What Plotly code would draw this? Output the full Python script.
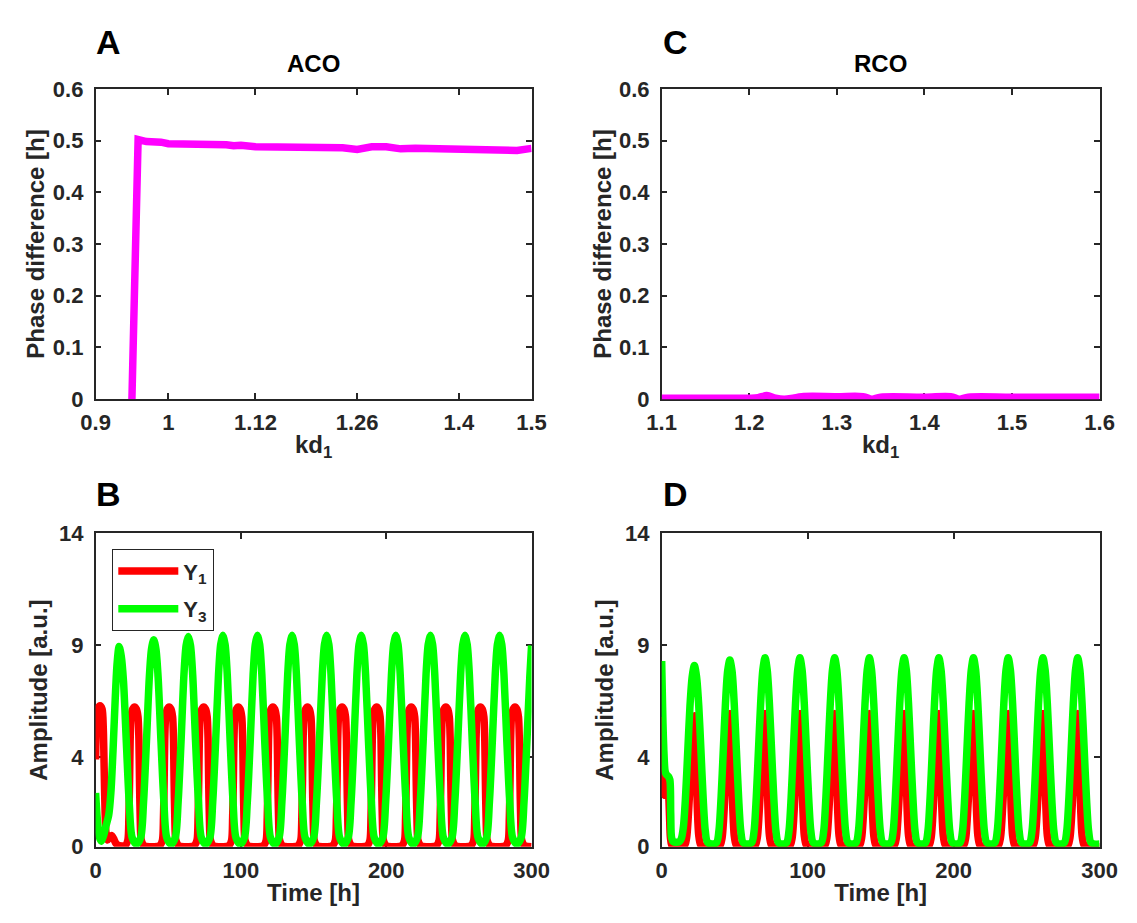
import plotly.graph_objects as go

# ---------------- data ----------------
# Panel A (ACO): phase difference vs kd1
kd_aco = [0.950, 0.9585, 0.97, 0.98, 0.99, 1.00, 1.02, 1.04, 1.06, 1.08, 1.09, 1.10,
          1.12, 1.14, 1.16, 1.18, 1.20, 1.22, 1.24, 1.26, 1.28, 1.30, 1.32, 1.34,
          1.36, 1.38, 1.40, 1.42, 1.44, 1.46, 1.48, 1.50]
phase_aco = [0.0, 0.502, 0.498, 0.499, 0.497, 0.494, 0.494, 0.494, 0.494, 0.492, 0.490, 0.491,
             0.488, 0.488, 0.488, 0.487, 0.488, 0.487, 0.486, 0.483, 0.488, 0.488, 0.484, 0.485,
             0.484, 0.484, 0.482, 0.484, 0.480, 0.480, 0.481, 0.485]

# Panel C (RCO)
kd_rco = [1.10, 1.15, 1.20, 1.21, 1.22, 1.23, 1.24, 1.25, 1.26, 1.30, 1.33, 1.34,
          1.35, 1.40, 1.43, 1.44, 1.45, 1.50, 1.55, 1.60]
phase_rco = [0.002, 0.002, 0.002, 0.003, 0.007, 0.002, 0.000, 0.002, 0.005, 0.005, 0.005, 0.000,
             0.004, 0.004, 0.005, 0.000, 0.004, 0.004, 0.004, 0.004]

# Panel B (ACO time series) - Y1 (red)
t_aco_y1 = [0, 0.6, 1.5, 3.0, 4.5, 5.3, 5.9, 6.5, 7.2, 8.2, 9.5, 11.0, 12.5, 14.0, 16.0,
            20.3, 22.2, 22.9, 23.4, 23.8, 24.4, 25.5, 26.8, 28.1, 29.2, 29.8, 30.2, 30.7, 31.4, 33.3, 38.7,
            44.1, 46.0, 46.7, 47.2, 47.6, 48.2, 49.3, 50.6, 51.9, 53.0, 53.6, 54.0, 54.5, 55.2, 57.1, 62.5,
            67.9, 69.8, 70.5, 71.0, 71.4, 72.0, 73.1, 74.4, 75.7, 76.8, 77.4, 77.8, 78.3, 79.0, 80.9, 86.3,
            91.7, 93.6, 94.3, 94.8, 95.2, 95.8, 96.9, 98.2, 99.5, 100.6, 101.2, 101.6, 102.1, 102.8, 104.7, 110.1,
            115.5, 117.4, 118.1, 118.6, 119.0, 119.6, 120.7, 122.0, 123.3, 124.4, 125.0, 125.4, 125.9, 126.6, 128.5, 133.9,
            139.3, 141.2, 141.9, 142.4, 142.8, 143.4, 144.5, 145.8, 147.1, 148.2, 148.8, 149.2, 149.7, 150.4, 152.3, 157.7,
            163.1, 165.0, 165.7, 166.2, 166.6, 167.2, 168.3, 169.6, 170.9, 172.0, 172.6, 173.0, 173.5, 174.2, 176.1, 181.5,
            186.9, 188.8, 189.5, 190.0, 190.4, 191.0, 192.1, 193.4, 194.7, 195.8, 196.4, 196.8, 197.3, 198.0, 199.9, 205.3,
            210.7, 212.6, 213.3, 213.8, 214.2, 214.8, 215.9, 217.2, 218.5, 219.6, 220.2, 220.6, 221.1, 221.8, 223.7, 229.1,
            234.5, 236.4, 237.1, 237.6, 238.0, 238.6, 239.7, 241.0, 242.3, 243.4, 244.0, 244.4, 244.9, 245.6, 247.5, 252.9,
            258.3, 260.2, 260.9, 261.4, 261.8, 262.4, 263.5, 264.8, 266.1, 267.2, 267.8, 268.2, 268.7, 269.4, 271.3, 276.7,
            282.1, 284.0, 284.7, 285.2, 285.6, 286.2, 287.3, 288.6, 289.9, 291.0, 291.6, 292.0, 292.5, 293.2, 295.1, 300.0]
aco_y1 = [3.9, 5.5, 6.15, 6.3, 6.15, 5.3, 3.5, 1.6, 0.6, 0.3, 0.4, 0.5, 0.35, 0.15, 0.05,
          0.05, 0.3, 1.3, 3.0, 4.8, 5.8, 6.15, 6.25, 6.15, 5.8, 4.8, 3.0, 1.3, 0.3, 0.05, 0.0,
          0.05, 0.3, 1.3, 3.0, 4.8, 5.8, 6.15, 6.25, 6.15, 5.8, 4.8, 3.0, 1.3, 0.3, 0.05, 0.0,
          0.05, 0.3, 1.3, 3.0, 4.8, 5.8, 6.15, 6.25, 6.15, 5.8, 4.8, 3.0, 1.3, 0.3, 0.05, 0.0,
          0.05, 0.3, 1.3, 3.0, 4.8, 5.8, 6.15, 6.25, 6.15, 5.8, 4.8, 3.0, 1.3, 0.3, 0.05, 0.0,
          0.05, 0.3, 1.3, 3.0, 4.8, 5.8, 6.15, 6.25, 6.15, 5.8, 4.8, 3.0, 1.3, 0.3, 0.05, 0.0,
          0.05, 0.3, 1.3, 3.0, 4.8, 5.8, 6.15, 6.25, 6.15, 5.8, 4.8, 3.0, 1.3, 0.3, 0.05, 0.0,
          0.05, 0.3, 1.3, 3.0, 4.8, 5.8, 6.15, 6.25, 6.15, 5.8, 4.8, 3.0, 1.3, 0.3, 0.05, 0.0,
          0.05, 0.3, 1.3, 3.0, 4.8, 5.8, 6.15, 6.25, 6.15, 5.8, 4.8, 3.0, 1.3, 0.3, 0.05, 0.0,
          0.05, 0.3, 1.3, 3.0, 4.8, 5.8, 6.15, 6.25, 6.15, 5.8, 4.8, 3.0, 1.3, 0.3, 0.05, 0.0,
          0.05, 0.3, 1.3, 3.0, 4.8, 5.8, 6.15, 6.25, 6.15, 5.8, 4.8, 3.0, 1.3, 0.3, 0.05, 0.0,
          0.05, 0.3, 1.3, 3.0, 4.8, 5.8, 6.15, 6.25, 6.15, 5.8, 4.8, 3.0, 1.3, 0.3, 0.05, 0.0,
          0.05, 0.3, 1.3, 3.0, 4.8, 5.8, 6.15, 6.25, 6.15, 5.8, 4.8, 3.0, 1.3, 0.3, 0.05, 0.0]

# Panel B (ACO time series) - Y3 (green)
t_aco_y3 = [0, 1, 2, 3, 4, 5.5, 7, 9, 10.5, 12, 13.5, 14.8, 16.2, 17.7, 19.2, 21.2, 23.2, 25.2, 28.1,
            31.0, 33.0, 35.0, 37.0, 38.5, 40.0, 41.5, 43.0, 45.0, 47.0, 49.0, 51.9,
            54.8, 56.8, 58.8, 60.8, 62.3, 63.8, 65.3, 66.8, 68.8, 70.8, 72.8, 75.7,
            78.6, 80.6, 82.6, 84.6, 86.1, 87.6, 89.1, 90.6, 92.6, 94.6, 96.6, 99.5,
            102.4, 104.4, 106.4, 108.4, 109.9, 111.4, 112.9, 114.4, 116.4, 118.4, 120.4, 123.3,
            126.2, 128.2, 130.2, 132.2, 133.7, 135.2, 136.7, 138.2, 140.2, 142.2, 144.2, 147.1,
            150.0, 152.0, 154.0, 156.0, 157.5, 159.0, 160.5, 162.0, 164.0, 166.0, 168.0, 170.9,
            173.8, 175.8, 177.8, 179.8, 181.3, 182.8, 184.3, 185.8, 187.8, 189.8, 191.8, 194.7,
            197.6, 199.6, 201.6, 203.6, 205.1, 206.6, 208.1, 209.6, 211.6, 213.6, 215.6, 218.5,
            221.4, 223.4, 225.4, 227.4, 228.9, 230.4, 231.9, 233.4, 235.4, 237.4, 239.4, 242.3,
            245.2, 247.2, 249.2, 251.2, 252.7, 254.2, 255.7, 257.2, 259.2, 261.2, 263.2, 266.1,
            269.0, 271.0, 273.0, 275.0, 276.5, 278.0, 279.5, 281.0, 283.0, 285.0, 287.0, 289.9,
            292.8, 294.8, 296.8, 298.8, 300.0]
aco_y3 = [2.4, 1.4, 0.7, 0.35, 0.25, 0.5, 0.9, 1.4, 2.4, 4.3, 6.6, 8.2, 8.95, 8.5, 7.4, 4.6, 1.9, 0.4, 0.12,
          0.4, 2.0, 4.7, 7.6, 8.85, 9.25, 8.85, 7.6, 4.7, 2.0, 0.4, 0.12,
          0.4, 2.0, 4.7, 7.7, 9.0, 9.4, 9.0, 7.7, 4.7, 2.0, 0.4, 0.12,
          0.4, 2.0, 4.7, 7.7, 9.05, 9.45, 9.05, 7.7, 4.7, 2.0, 0.4, 0.12,
          0.4, 2.0, 4.7, 7.7, 9.05, 9.45, 9.05, 7.7, 4.7, 2.0, 0.4, 0.12,
          0.4, 2.0, 4.7, 7.7, 9.05, 9.45, 9.05, 7.7, 4.7, 2.0, 0.4, 0.12,
          0.4, 2.0, 4.7, 7.7, 9.05, 9.45, 9.05, 7.7, 4.7, 2.0, 0.4, 0.12,
          0.4, 2.0, 4.7, 7.7, 9.05, 9.45, 9.05, 7.7, 4.7, 2.0, 0.4, 0.12,
          0.4, 2.0, 4.7, 7.7, 9.05, 9.45, 9.05, 7.7, 4.7, 2.0, 0.4, 0.12,
          0.4, 2.0, 4.7, 7.7, 9.05, 9.45, 9.05, 7.7, 4.7, 2.0, 0.4, 0.12,
          0.4, 2.0, 4.7, 7.7, 9.05, 9.45, 9.05, 7.7, 4.7, 2.0, 0.4, 0.12,
          0.4, 2.0, 4.7, 7.7, 9.05, 9.45, 9.05, 7.7, 4.7, 2.0, 0.4, 0.12,
          0.4, 2.0, 4.7, 7.6, 9.0]

# Panel D (RCO time series) - Y1 (red)
t_rco_y1 = [0, 0.4, 1.0, 1.8, 2.6, 3.5, 4.5, 5.3, 6.0, 7.0, 9.0,
            15.6, 17.1, 18.1, 19.6, 21.1, 22.1, 22.6, 23.2, 23.8, 24.5, 25.4, 26.6, 28.1, 34.75,
            39.9, 41.4, 42.4, 43.9, 45.4, 46.4, 46.9, 47.5, 48.1, 48.8, 49.7, 50.9, 52.4, 58.95,
            64.0, 65.5, 66.5, 68.0, 69.5, 70.5, 71.0, 71.6, 72.2, 72.9, 73.8, 75.0, 76.5, 82.95,
            87.9, 89.4, 90.4, 91.9, 93.4, 94.4, 94.9, 95.5, 96.1, 96.8, 97.7, 98.9, 100.4, 106.8,
            111.7, 113.2, 114.2, 115.7, 117.2, 118.2, 118.7, 119.3, 119.9, 120.6, 121.5, 122.7, 124.2, 130.6,
            135.5, 137.0, 138.0, 139.5, 141.0, 142.0, 142.5, 143.1, 143.7, 144.4, 145.3, 146.5, 148.0, 154.4,
            159.3, 160.8, 161.8, 163.3, 164.8, 165.8, 166.3, 166.9, 167.5, 168.2, 169.1, 170.3, 171.8, 178.2,
            183.1, 184.6, 185.6, 187.1, 188.6, 189.6, 190.1, 190.7, 191.3, 192.0, 192.9, 194.1, 195.6, 201.95,
            206.8, 208.3, 209.3, 210.8, 212.3, 213.3, 213.8, 214.4, 215.0, 215.7, 216.6, 217.8, 219.3, 225.7,
            230.6, 232.1, 233.1, 234.6, 236.1, 237.1, 237.6, 238.2, 238.8, 239.5, 240.4, 241.6, 243.1, 249.5,
            254.4, 255.9, 256.9, 258.4, 259.9, 260.9, 261.4, 262.0, 262.6, 263.3, 264.2, 265.4, 266.9, 273.3,
            278.2, 279.7, 280.7, 282.2, 283.7, 284.7, 285.2, 285.8, 286.4, 287.1, 288.0, 289.2, 290.7, 300.0]
rco_y1 = [5.8, 4.3, 3.0, 2.3, 2.4, 2.5, 2.4, 1.5, 0.4, 0.05, 0.0,
          0.05, 0.4, 1.2, 3.0, 4.8, 5.7, 5.85, 5.2, 3.5, 1.6, 0.5, 0.1, 0.02, 0.0,
          0.05, 0.4, 1.2, 3.0, 4.9, 5.8, 5.95, 5.3, 3.5, 1.6, 0.5, 0.1, 0.02, 0.0,
          0.05, 0.4, 1.2, 3.0, 4.9, 5.8, 5.95, 5.3, 3.5, 1.6, 0.5, 0.1, 0.02, 0.0,
          0.05, 0.4, 1.2, 3.0, 4.9, 5.8, 5.95, 5.3, 3.5, 1.6, 0.5, 0.1, 0.02, 0.0,
          0.05, 0.4, 1.2, 3.0, 4.9, 5.8, 5.95, 5.3, 3.5, 1.6, 0.5, 0.1, 0.02, 0.0,
          0.05, 0.4, 1.2, 3.0, 4.9, 5.8, 5.95, 5.3, 3.5, 1.6, 0.5, 0.1, 0.02, 0.0,
          0.05, 0.4, 1.2, 3.0, 4.9, 5.8, 5.95, 5.3, 3.5, 1.6, 0.5, 0.1, 0.02, 0.0,
          0.05, 0.4, 1.2, 3.0, 4.9, 5.8, 5.95, 5.3, 3.5, 1.6, 0.5, 0.1, 0.02, 0.0,
          0.05, 0.4, 1.2, 3.0, 4.9, 5.8, 5.95, 5.3, 3.5, 1.6, 0.5, 0.1, 0.02, 0.0,
          0.05, 0.4, 1.2, 3.0, 4.9, 5.8, 5.95, 5.3, 3.5, 1.6, 0.5, 0.1, 0.02, 0.0,
          0.05, 0.4, 1.2, 3.0, 4.9, 5.8, 5.95, 5.3, 3.5, 1.6, 0.5, 0.1, 0.02, 0.0,
          0.05, 0.4, 1.2, 3.0, 4.9, 5.8, 5.95, 5.3, 3.5, 1.6, 0.5, 0.1, 0.02, 0.0]

# Panel D (RCO time series) - Y3 (green)
t_rco_y3 = [0, 0.4, 0.9, 1.5, 2.3, 3.0, 4.5, 5.6, 6.2, 6.8, 8.0, 10.0, 12.0,
            13.4, 14.9, 16.4, 17.9, 19.4, 20.9, 22.4, 23.9, 25.4, 26.9, 28.4, 29.9, 31.4, 34.55,
            37.7, 39.2, 40.7, 42.2, 43.7, 45.2, 46.7, 48.2, 49.7, 51.2, 52.7, 54.2, 55.7, 58.75,
            61.8, 63.3, 64.8, 66.3, 67.8, 69.3, 70.8, 72.3, 73.8, 75.3, 76.8, 78.3, 79.8, 82.75,
            85.7, 87.2, 88.7, 90.2, 91.7, 93.2, 94.7, 96.2, 97.7, 99.2, 100.7, 102.2, 103.7, 106.6,
            109.5, 111.0, 112.5, 114.0, 115.5, 117.0, 118.5, 120.0, 121.5, 123.0, 124.5, 126.0, 127.5, 130.4,
            133.3, 134.8, 136.3, 137.8, 139.3, 140.8, 142.3, 143.8, 145.3, 146.8, 148.3, 149.8, 151.3, 154.2,
            157.1, 158.6, 160.1, 161.6, 163.1, 164.6, 166.1, 167.6, 169.1, 170.6, 172.1, 173.6, 175.1, 178.0,
            180.9, 182.4, 183.9, 185.4, 186.9, 188.4, 189.9, 191.4, 192.9, 194.4, 195.9, 197.4, 198.9, 201.75,
            204.6, 206.1, 207.6, 209.1, 210.6, 212.1, 213.6, 215.1, 216.6, 218.1, 219.6, 221.1, 222.6, 225.5,
            228.4, 229.9, 231.4, 232.9, 234.4, 235.9, 237.4, 238.9, 240.4, 241.9, 243.4, 244.9, 246.4, 249.3,
            252.2, 253.7, 255.2, 256.7, 258.2, 259.7, 261.2, 262.7, 264.2, 265.7, 267.2, 268.7, 270.2, 273.1,
            276.0, 277.5, 279.0, 280.5, 282.0, 283.5, 285.0, 286.5, 288.0, 289.5, 291.0, 292.5, 294.0, 297.0, 300.0]
rco_y3 = [8.3, 7.0, 5.5, 4.3, 3.4, 3.25, 3.15, 3.0, 1.5, 0.4, 0.22, 0.2, 0.22,
          0.35, 0.9, 2.3, 4.3, 6.3, 7.6, 8.1, 7.6, 6.3, 4.3, 2.2, 0.7, 0.2, 0.12,
          0.2, 0.7, 2.2, 4.3, 6.4, 7.85, 8.35, 7.85, 6.4, 4.3, 2.2, 0.7, 0.2, 0.12,
          0.2, 0.7, 2.2, 4.3, 6.4, 7.9, 8.45, 7.9, 6.4, 4.3, 2.2, 0.7, 0.2, 0.12,
          0.2, 0.7, 2.2, 4.3, 6.4, 7.9, 8.45, 7.9, 6.4, 4.3, 2.2, 0.7, 0.2, 0.12,
          0.2, 0.7, 2.2, 4.3, 6.4, 7.9, 8.45, 7.9, 6.4, 4.3, 2.2, 0.7, 0.2, 0.12,
          0.2, 0.7, 2.2, 4.3, 6.4, 7.9, 8.45, 7.9, 6.4, 4.3, 2.2, 0.7, 0.2, 0.12,
          0.2, 0.7, 2.2, 4.3, 6.4, 7.9, 8.45, 7.9, 6.4, 4.3, 2.2, 0.7, 0.2, 0.12,
          0.2, 0.7, 2.2, 4.3, 6.4, 7.9, 8.45, 7.9, 6.4, 4.3, 2.2, 0.7, 0.2, 0.12,
          0.2, 0.7, 2.2, 4.3, 6.4, 7.9, 8.45, 7.9, 6.4, 4.3, 2.2, 0.7, 0.2, 0.12,
          0.2, 0.7, 2.2, 4.3, 6.4, 7.9, 8.45, 7.9, 6.4, 4.3, 2.2, 0.7, 0.2, 0.12,
          0.2, 0.7, 2.2, 4.3, 6.4, 7.9, 8.45, 7.9, 6.4, 4.3, 2.2, 0.7, 0.2, 0.12,
          0.2, 0.7, 2.2, 4.3, 6.4, 7.9, 8.45, 7.9, 6.4, 4.3, 2.2, 0.7, 0.2, 0.12, 0.12]

# tick labels
kd_aco_ticks = [0.9, 1.0, 1.12, 1.26, 1.4, 1.5]
kd_aco_ticktext = ["0.9", "1", "1.12", "1.26", "1.4", "1.5"]
kd_rco_ticks = [1.1, 1.2, 1.3, 1.4, 1.5, 1.6]
kd_rco_ticktext = ["1.1", "1.2", "1.3", "1.4", "1.5", "1.6"]
phase_ticks = [0, 0.1, 0.2, 0.3, 0.4, 0.5, 0.6]
phase_ticktext = ["0", "0.1", "0.2", "0.3", "0.4", "0.5", "0.6"]
time_ticks = [0, 100, 200, 300]
amp_ticks = [0, 4, 9, 14]

# ---------------- figure ----------------
W, H = 1137, 923
FONT = "Liberation Sans, Arial, sans-serif"
AX = "#262626"
MAGENTA, RED, GREEN = "#FF00FF", "#FF0000", "#00FF00"
LW = 7.5

fig = go.Figure()
fig.add_trace(go.Scatter(x=kd_aco, y=phase_aco, mode="lines", line=dict(color=MAGENTA, width=LW),
                         showlegend=False, xaxis="x", yaxis="y"))
fig.add_trace(go.Scatter(x=kd_rco, y=phase_rco, mode="lines", line=dict(color=MAGENTA, width=LW, shape="spline"),
                         showlegend=False, xaxis="x2", yaxis="y2"))
fig.add_trace(go.Scatter(x=t_aco_y1, y=aco_y1, mode="lines", name="Y<sub>1</sub>", legendgroup="y1",
                         line=dict(color=RED, width=LW, shape="spline", smoothing=0.7),
                         xaxis="x3", yaxis="y3"))
fig.add_trace(go.Scatter(x=t_aco_y3, y=aco_y3, mode="lines", name="Y<sub>3</sub>", legendgroup="y3",
                         line=dict(color=GREEN, width=LW, shape="spline", smoothing=0.8),
                         xaxis="x3", yaxis="y3"))
fig.add_trace(go.Scatter(x=t_rco_y1, y=rco_y1, mode="lines", showlegend=False,
                         line=dict(color=RED, width=LW, shape="spline", smoothing=0.8),
                         xaxis="x4", yaxis="y4"))
fig.add_trace(go.Scatter(x=t_rco_y3, y=rco_y3, mode="lines", showlegend=False,
                         line=dict(color=GREEN, width=LW, shape="spline", smoothing=0.8),
                         xaxis="x4", yaxis="y4"))

def px_x(a, b):
    return [a / W, b / W]

def px_y(top, bottom):
    return [1 - bottom / H, 1 - top / H]

tickfont = dict(family=FONT, size=22, color=AX, weight="bold")
titlefont = dict(family=FONT, size=24, color=AX, weight="bold")

def axis(domain, rng, tickvals, ticktext, anchor, title, standoff, lab_standoff):
    return dict(domain=domain, range=rng, tickvals=tickvals, ticktext=ticktext, anchor=anchor,
                showline=True, linecolor=AX, linewidth=1.5, mirror="ticks",
                ticks="inside", ticklen=6, tickwidth=1.5, tickcolor=AX,
                showgrid=False, zeroline=False, tickfont=tickfont, layer="below traces",
                ticklabelstandoff=lab_standoff,
                title=dict(text=title, font=titlefont, standoff=standoff))

xl, xr = 83, 532
cl, cr = 666, 1117
top1, bot1 = 79, 398
top2, bot2 = 536, 858

fig.update_layout(
    width=W, height=H, margin=dict(l=0, r=0, t=0, b=0),
    paper_bgcolor="white", plot_bgcolor="white",
    font=dict(family=FONT, color=AX, weight="bold"),
    xaxis=axis(px_x(xl, xr), [0.9, 1.5], kd_aco_ticks, kd_aco_ticktext, "y", "kd<sub>1</sub>", 2, 3),
    yaxis=axis(px_y(top1, bot1), [0, 0.6], phase_ticks, phase_ticktext, "x", "Phase difference [h]", 1, 6),
    xaxis2=axis(px_x(cl, cr), [1.1, 1.6], kd_rco_ticks, kd_rco_ticktext, "y2", "kd<sub>1</sub>", 2, 3),
    yaxis2=axis(px_y(top1, bot1), [0, 0.6], phase_ticks, phase_ticktext, "x2", "Phase difference [h]", 1, 6),
    xaxis3=axis(px_x(xl, xr), [0, 300], time_ticks, [str(v) for v in time_ticks], "y3", "Time [h]", 2, 3),
    yaxis3=axis(px_y(top2, bot2), [0, 14], amp_ticks, [str(v) for v in amp_ticks], "x3", "Amplitude [a.u.]", 5, 6),
    xaxis4=axis(px_x(cl, cr), [0, 300], time_ticks, [str(v) for v in time_ticks], "y4", "Time [h]", 2, 3),
    yaxis4=axis(px_y(top2, bot2), [0, 14], amp_ticks, [str(v) for v in amp_ticks], "x4", "Amplitude [a.u.]", 5, 6),
    legend=dict(x=100 / W, y=1 - 552 / H, xanchor="left", yanchor="top",
                bgcolor="white", bordercolor=AX, borderwidth=1.2,
                font=dict(family=FONT, size=22, color=AX, weight="bold"),
                itemwidth=60, tracegroupgap=6),
)

annots = [
    ("<b>A</b>", 96, 31, 34), ("<b>C</b>", 680, 31, 34),
    ("<b>B</b>", 96, 495, 34), ("<b>D</b>", 680, 495, 34),
    ("<b>ACO</b>", (xl + xr) / 2, 53, 24), ("<b>RCO</b>", (cl + cr) / 2, 53, 24),
]
for text, x, y, size in annots:
    fig.add_annotation(text=text, x=x / W, y=1 - y / H, xref="paper", yref="paper",
                       xanchor="center", yanchor="middle", showarrow=False,
                       font=dict(family=FONT, size=size, color="black", weight="bold"))

fig.write_html("out.html")
